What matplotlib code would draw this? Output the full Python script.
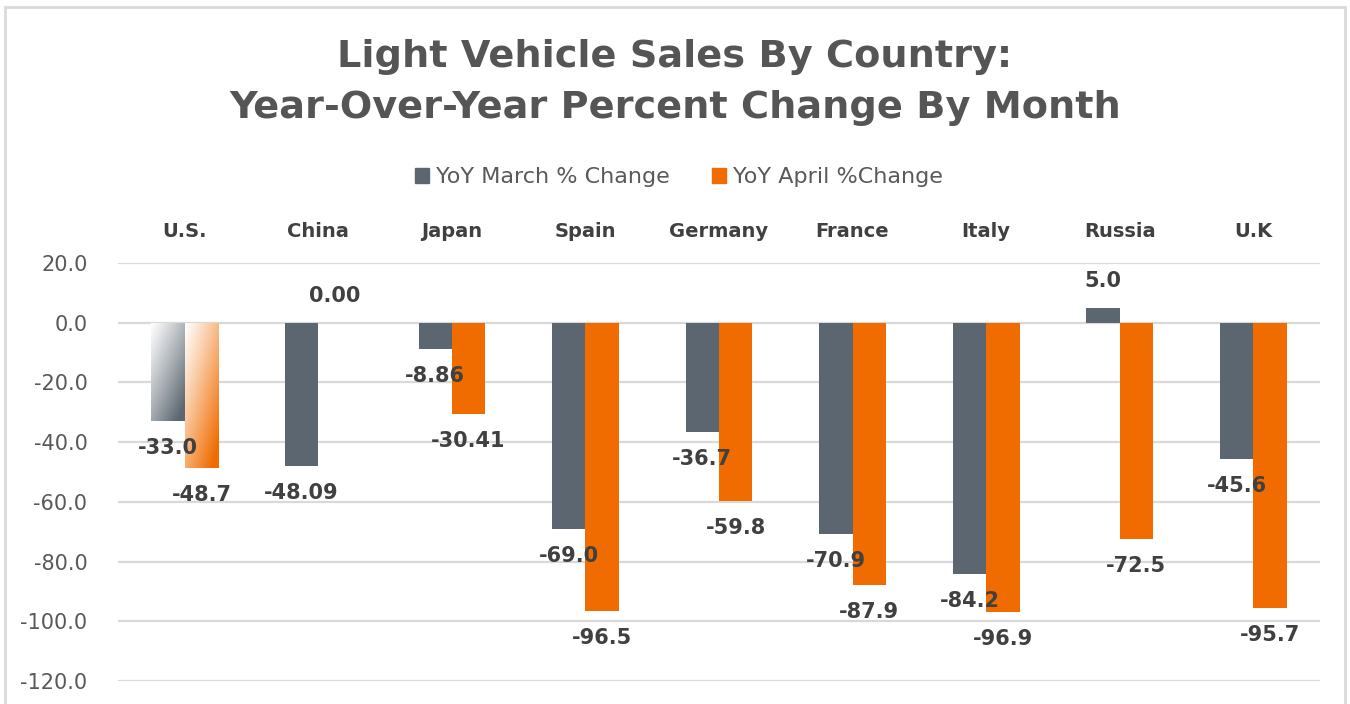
import numpy as np
import matplotlib.pyplot as plt
from matplotlib.patches import Rectangle
from matplotlib.colors import to_rgb

countries = ["U.S.", "China", "Japan", "Spain", "Germany", "France", "Italy", "Russia", "U.K"]
march = [-33.0, -48.09, -8.86, -69.0, -36.7, -70.9, -84.2, 5.0, -45.6]
april = [-48.7, 0.00, -30.41, -96.5, -59.8, -87.9, -96.9, -72.5, -95.7]
march_labels = ["-33.0", "-48.09", "-8.86", "-69.0", "-36.7", "-70.9", "-84.2", "5.0", "-45.6"]
april_labels = ["-48.7", "0.00", "-30.41", "-96.5", "-59.8", "-87.9", "-96.9", "-72.5", "-95.7"]
yticks = [20, 0, -20, -40, -60, -80, -100, -120]

GRAY = "#5B6670"
ORANGE = "#F06C00"
TXT = "#404040"

W, H = 1350, 704
fig = plt.figure(figsize=(W / 100, H / 100), dpi=100)

# outer frame
fig.patches.append(Rectangle((5 / W, -0.1), (1345 - 5) / W, 1.1 - 7 / H,
                             transform=fig.transFigure, fill=False,
                             edgecolor="#D9D9D9", linewidth=2))

ax = fig.add_axes([118 / W, 1 - 681 / H, (1320 - 118) / W, (681 - 263) / H])

x = np.arange(len(countries))
bw = 0.25
b1 = ax.bar(x - bw / 2, march, bw, color=GRAY, zorder=3)
b2 = ax.bar(x + bw / 2, april, bw, color=ORANGE, zorder=3)


def gradient_fill(bar, color):
    # U.S. bars fade from white (top-left) to full colour (bottom-right)
    bar.set_facecolor("none")
    x0, y0 = bar.get_x(), bar.get_y()
    w, h = bar.get_width(), bar.get_height()
    u = np.linspace(0, 1, 60)[None, :]
    v = np.linspace(0, 1, 120)[:, None]
    t = np.clip(0.5 * u + 0.6 * v, 0, 1) ** 1.1
    c = np.array(to_rgb(color))
    img = (1 - t[..., None]) * 1.0 + t[..., None] * c
    top, bot = max(y0, y0 + h), min(y0, y0 + h)
    im = ax.imshow(img, extent=[x0, x0 + w, bot, top], origin="upper",
                   aspect="auto", zorder=3)
    im.set_clip_path(bar)


gradient_fill(b1[0], GRAY)
gradient_fill(b2[0], ORANGE)

for xs, vals, labs in [(x - bw / 2, march, march_labels), (x + bw / 2, april, april_labels)]:
    for xi, v, lab in zip(xs, vals, labs):
        off = 27 if v >= 0 else -27
        ax.annotate(lab, (xi, v), xytext=(0, off), textcoords="offset pixels",
                    ha="center", va="center", fontsize=15, fontweight="bold",
                    color=TXT, zorder=5)

ax.set_xlim(-0.5, len(countries) - 0.5)
ax.set_ylim(-120, 20)
ax.set_yticks(yticks)
ax.set_yticklabels([f"{t:.1f}" for t in yticks], fontsize=15, color="#595959")
ax.tick_params(axis="y", length=0, pad=22)
ax.grid(axis="y", color="#D9D9D9", linewidth=1.6, zorder=0)
ax.set_xticks(x)
ax.set_xticklabels(countries, fontsize=14, fontweight="bold", color=TXT)
ax.xaxis.tick_top()
ax.tick_params(axis="x", length=0, pad=16)
for s in ax.spines.values():
    s.set_visible(False)

fig.text(0.5, 1 - 57 / H, "Light Vehicle Sales By Country:", ha="center", va="center",
         fontsize=27.5, fontweight="bold", color="#555555")
fig.text(0.5, 1 - 108 / H, "Year-Over-Year Percent Change By Month", ha="center", va="center",
         fontsize=27.5, fontweight="bold", color="#555555")

h1 = Rectangle((0, 0), 1, 1, color=GRAY)
h2 = Rectangle((0, 0), 1, 1, color=ORANGE)
fig.legend([h1, h2], ["YoY March % Change", "YoY April %Change"],
           loc="center", bbox_to_anchor=(679 / W, 1 - 177 / H), ncol=2, frameon=False,
           fontsize=16, labelcolor="#595959", handlelength=0.65, handleheight=0.65,
           handletextpad=0.3, columnspacing=1.9)

fig.savefig("out.png", dpi=100)
